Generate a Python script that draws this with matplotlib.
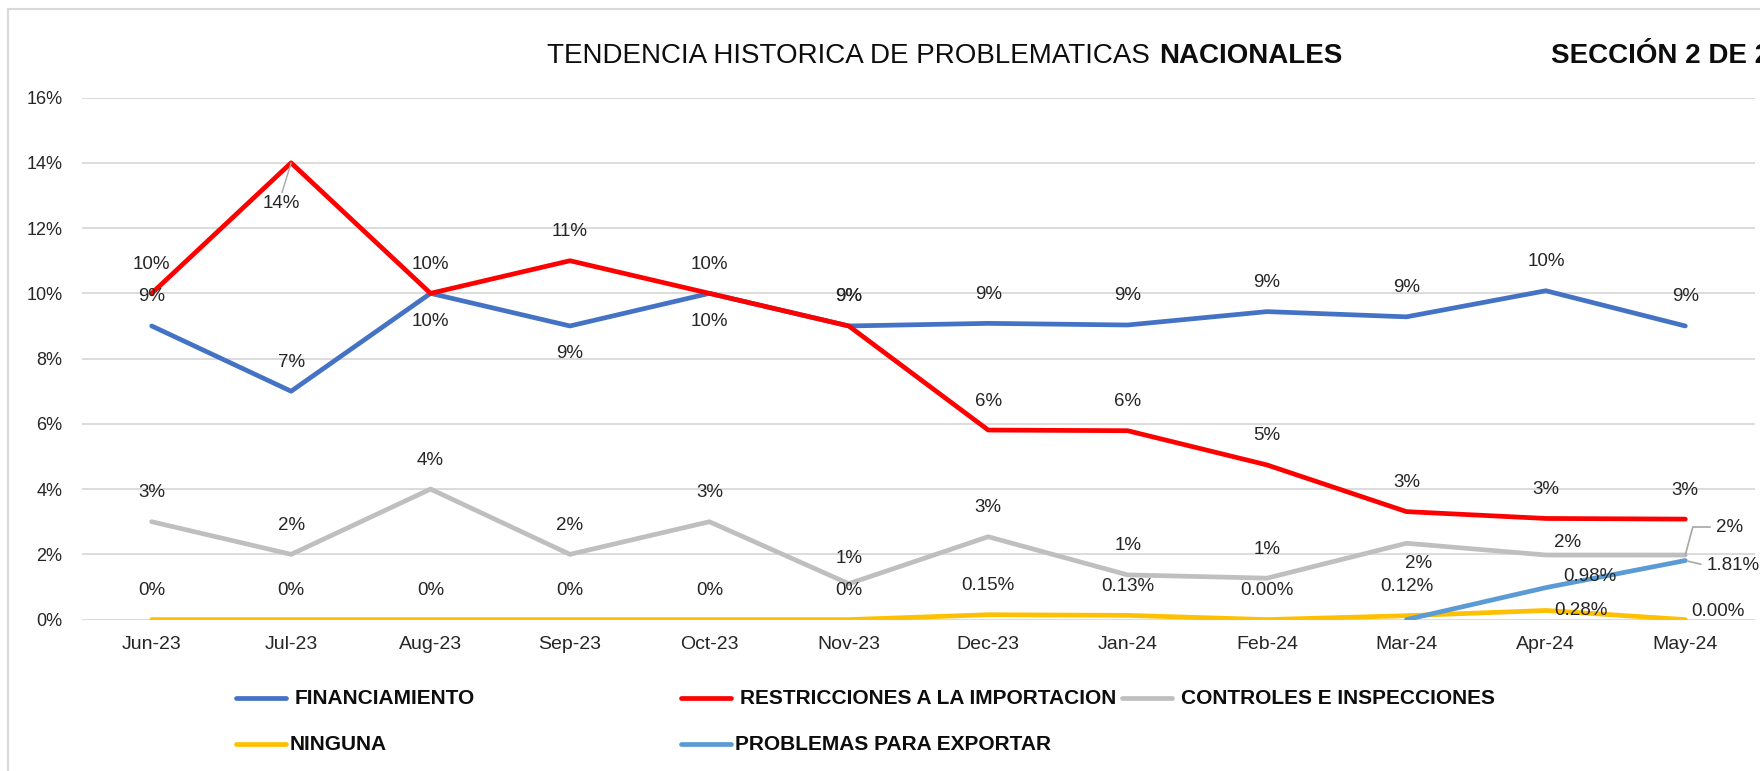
import numpy as np
import matplotlib
matplotlib.use('Agg')
import matplotlib.pyplot as plt
from matplotlib.patches import Rectangle
from matplotlib.lines import Line2D

plt.rcParams['font.family'] = ['Liberation Sans', 'DejaVu Sans']

# Data (values in %)
months = ['Jun-23', 'Jul-23', 'Aug-23', 'Sep-23', 'Oct-23', 'Nov-23',
          'Dec-23', 'Jan-24', 'Feb-24', 'Mar-24', 'Apr-24', 'May-24']
financiamiento = [9.0, 7.0, 10.0, 9.0, 10.0, 9.0, 9.08, 9.03, 9.44, 9.28, 10.08, 9.0]
restricciones = [10.0, 14.0, 10.0, 11.0, 10.0, 9.0, 5.81, 5.79, 4.74, 3.31, 3.10, 3.08]
controles = [3.0, 2.0, 4.0, 2.0, 3.0, 1.1, 2.54, 1.37, 1.27, 2.34, 1.98, 1.98]
ninguna = [0.0, 0.0, 0.0, 0.0, 0.0, 0.0, 0.15, 0.13, 0.00, 0.12, 0.28, 0.00]
exportar = [np.nan] * 9 + [0.0, 0.98, 1.81]

ninguna_labels = ['0%'] * 6 + ['0.15%', '0.13%', '0.00%', '0.12%', '0.28%', '0.00%']
exportar_labels = [None] * 10 + ['0.98%', '1.81%']

names = ['FINANCIAMIENTO', 'RESTRICCIONES A LA IMPORTACION', 'CONTROLES E INSPECCIONES',
         'NINGUNA', 'PROBLEMAS PARA EXPORTAR']
colors = ['#4472C4', '#FF0000', '#BFBFBF', '#FFC000', '#5B9BD5']

series = [financiamiento, restricciones, controles, ninguna, exportar]
labels = [[f'{v:.0f}%' for v in financiamiento],
          [f'{v:.0f}%' for v in restricciones],
          [f'{v:.0f}%' for v in controles],
          ninguna_labels,
          exportar_labels]

# label placement: 'a' above, 'b' below, or (dx, dy, ha, leader) in pixels
A, B = 'a', 'b'
placement = [
    [A, A, B, B, B, A, A, A, A, A, A, A],
    [A, (-10, -41, 'center', 'top'), A, A, A, A, A, A, A, A, A, A],
    [A, A, A, A, A, (0, 25, 'center', None), A, A, A, (12, -20, 'center', None),
     (22, 13, 'center', None), (44, 28, 'center', 'elbow')],
    [A, A, A, A, A, A, A, A, A, A, (8, 0, 'left', None), (6, 8, 'left', None)],
    [None] * 10 + [(17, 11, 'left', None), (21, -5, 'left', 'side')],
]

W, H = 1760, 771
fig = plt.figure(figsize=(W / 100, H / 100), dpi=100)
ax = fig.add_axes([82 / W, 1 - 619.6 / H, (1755 - 82) / W, (619.6 - 97.6) / H])

x = np.arange(len(months))
lw = 3.4
for vals, c in zip(series, colors):
    ax.plot(x, vals, color=c, lw=lw, solid_capstyle='round', solid_joinstyle='round', zorder=3)

ax.set_xlim(-0.5, len(months) - 0.5)
ax.set_ylim(0, 16)
ax.set_yticks(np.arange(0, 17, 2))
ax.set_yticklabels([f'{t}%' for t in range(0, 17, 2)])
ax.set_xticks(x)
ax.set_xticklabels(months)
ax.yaxis.grid(True, color='#d9d9d9', lw=1.3)
ax.set_axisbelow(True)
for s in ax.spines.values():
    s.set_visible(False)
ax.tick_params(axis='y', length=0, pad=14, labelsize=13, labelcolor='#262626')
ax.tick_params(axis='x', length=0, pad=12, labelsize=14, labelcolor='#262626')

# data labels
txt_col = '#262626'
lead_col = '#a6a6a6'
for vals, labs, places in zip(series, labels, placement):
    for i, (v, lab, p) in enumerate(zip(vals, labs, places)):
        if lab is None or p is None:
            continue
        if p == A:
            dx, dy, ha, lead = 0, 29, 'center', None
        elif p == B:
            dx, dy, ha, lead = 0, -28, 'center', None
        else:
            dx, dy, ha, lead = p
        arrow = None
        if lead == 'top':
            arrow = dict(arrowstyle='-', color=lead_col, lw=1, shrinkA=0, shrinkB=0,
                         relpos=(0.5, 1.0))
        elif lead == 'elbow':
            arrow = dict(arrowstyle='-', color=lead_col, lw=1.2, shrinkA=2, shrinkB=0,
                         relpos=(0.0, 0.5), connectionstyle='angle,angleA=0,angleB=75,rad=0')
        elif lead == 'side':
            arrow = dict(arrowstyle='-', color=lead_col, lw=1.2, shrinkA=2, shrinkB=2,
                         relpos=(0.0, 0.5))
        ax.annotate(lab, (i, v), xytext=(dx, dy), textcoords='offset pixels',
                    ha=ha, va='center', fontsize=13.5, color=txt_col,
                    arrowprops=arrow, zorder=5)

# title
tcol = '#0d0d0d'
t1 = fig.text(547 / W, 1 - 63 / H, 'TENDENCIA HISTORICA DE PROBLEMATICAS',
              fontsize=20, color=tcol, va='baseline', ha='left')
fig.canvas.draw()
bb = t1.get_window_extent()
fig.text((bb.x1 + 9) / W, 1 - 63 / H, 'NACIONALES', fontsize=20, fontweight='bold',
         color=tcol, va='baseline', ha='left')
fig.text(1551 / W, 1 - 63 / H, 'SECCIÓN 2 DE 2', fontsize=20, fontweight='bold',
         color=tcol, va='baseline', ha='left')

# legend drawn by hand, Excel-style grid of 3 columns
col_x = [236, 681, 1122]
row_y = [698, 744]
text_gap = [59, 54]
for i, (name, c) in enumerate(zip(names, colors)):
    r, k = divmod(i, 3)
    x0 = col_x[k]
    y0 = 1 - row_y[r] / H
    fig.add_artist(Line2D([x0 / W, (x0 + 50) / W], [y0, y0], color=c, lw=lw,
                          solid_capstyle='round', transform=fig.transFigure))
    fig.text((x0 + text_gap[r]) / W, y0, name, fontsize=15, fontweight='bold',
             color=tcol, va='center', ha='left')

# chart frame
fig.add_artist(Rectangle((8 / W, -0.05), 1.2, 1.05 - 9 / H, transform=fig.transFigure,
                         fill=False, edgecolor='#d9d9d9', lw=1.5))

fig.savefig('out.png', dpi=100)
